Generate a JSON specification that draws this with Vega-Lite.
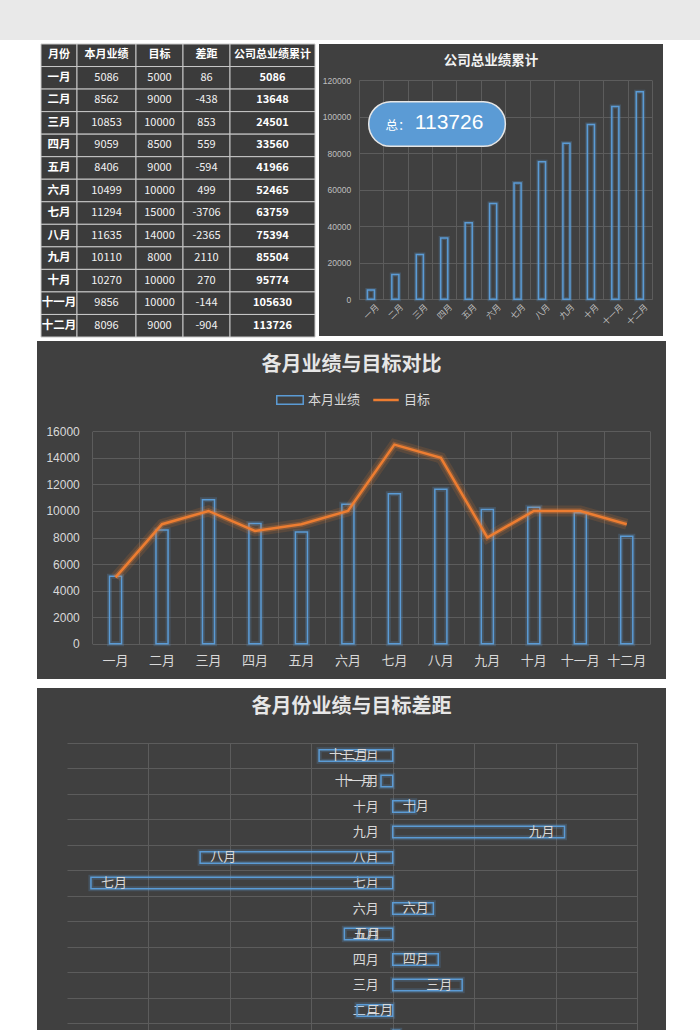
{
  "$schema": "https://vega.github.io/schema/vega-lite/v6.json",
  "background": "#ffffff",
  "padding": 0,
  "config": {
    "view": {"stroke": null},
    "font": "Noto Sans CJK SC",
    "axis": {"domain": false, "ticks": false, "tickSize": 0, "title": null, "gridColor": "#5c5c5c", "gridWidth": 1, "labelOverlap": false}
  },
  "datasets": {
    "h": [{"m": "月份", "a": "本月业绩", "t": "目标", "d": "差距", "c": "公司总业绩累计"}],
    "s": [
      {"m": "一月", "a": 5086, "t": 5000, "d": 86, "c": 5086},
      {"m": "二月", "a": 8562, "t": 9000, "d": -438, "c": 13648},
      {"m": "三月", "a": 10853, "t": 10000, "d": 853, "c": 24501},
      {"m": "四月", "a": 9059, "t": 8500, "d": 559, "c": 33560},
      {"m": "五月", "a": 8406, "t": 9000, "d": -594, "c": 41966},
      {"m": "六月", "a": 10499, "t": 10000, "d": 499, "c": 52465},
      {"m": "七月", "a": 11294, "t": 15000, "d": -3706, "c": 63759},
      {"m": "八月", "a": 11635, "t": 14000, "d": -2365, "c": 75394},
      {"m": "九月", "a": 10110, "t": 8000, "d": 2110, "c": 85504},
      {"m": "十月", "a": 10270, "t": 10000, "d": 270, "c": 95774},
      {"m": "十一月", "a": 9856, "t": 10000, "d": -144, "c": 105630},
      {"m": "十二月", "a": 8096, "t": 9000, "d": -904, "c": 113726}
    ],
    "callout": [{"k": "总：", "v": 113726}]
  },
  "spacing": 3,
  "vconcat": [
    {
      "spacing": 3,
      "vconcat": [
        {"width": 700, "height": 40, "view": {"fill": "#e9e9e9", "stroke": null}, "data": {"values": [{}]}, "mark": {"type": "rect", "opacity": 0}, "encoding": {}},
        {
          "spacing": 3,
          "hconcat": [
            {"width": 37, "height": 10, "data": {"values": [{}]}, "mark": {"type": "rect", "opacity": 0}, "encoding": {}},
            {
              "spacing": 0,
              "bounds": "flush",
              "hconcat": [
                {
                  "width": 36, "height": 293,
                  "encoding": {"y": {"field": "m", "type": "nominal", "axis": null, "sort": null, "scale": {"domain": ["月份","一月","二月","三月","四月","五月","六月","七月","八月","九月","十月","十一月","十二月"], "paddingInner": 0, "paddingOuter": 0}}},
                  "layer": [
                    {"data": {"name": "h"}, "mark": {"type": "rect", "fill": "#3b3b3b", "stroke": "#c8c8c8", "strokeWidth": 1}},
                    {"data": {"name": "h"}, "mark": {"type": "text", "fontSize": 11, "fontWeight": "bold", "color": "#ffffff"}, "encoding": {"text": {"field": "m", "type": "nominal"}}},
                    {"data": {"name": "s"}, "mark": {"type": "rect", "fill": "#3b3b3b", "stroke": "#c8c8c8", "strokeWidth": 1}},
                    {"data": {"name": "s"}, "mark": {"type": "text", "fontSize": 11.5, "fontWeight": "bold", "color": "#ffffff"}, "encoding": {"text": {"field": "m", "type": "nominal"}}}
                  ]
                },
                {
                  "width": 59, "height": 293,
                  "encoding": {"y": {"field": "m", "type": "nominal", "axis": null, "sort": null, "scale": {"domain": ["月份","一月","二月","三月","四月","五月","六月","七月","八月","九月","十月","十一月","十二月"], "paddingInner": 0, "paddingOuter": 0}}},
                  "layer": [
                    {"data": {"name": "h"}, "mark": {"type": "rect", "fill": "#3b3b3b", "stroke": "#c8c8c8", "strokeWidth": 1}},
                    {"data": {"name": "h"}, "mark": {"type": "text", "fontSize": 11, "fontWeight": "bold", "color": "#ffffff"}, "encoding": {"text": {"field": "a", "type": "nominal"}}},
                    {"data": {"name": "s"}, "mark": {"type": "rect", "fill": "#3b3b3b", "stroke": "#c8c8c8", "strokeWidth": 1}},
                    {"data": {"name": "s"}, "mark": {"type": "text", "fontSize": 11, "color": "#f2f2f2"}, "encoding": {"text": {"field": "a", "type": "nominal"}}}
                  ]
                },
                {
                  "width": 47, "height": 293,
                  "encoding": {"y": {"field": "m", "type": "nominal", "axis": null, "sort": null, "scale": {"domain": ["月份","一月","二月","三月","四月","五月","六月","七月","八月","九月","十月","十一月","十二月"], "paddingInner": 0, "paddingOuter": 0}}},
                  "layer": [
                    {"data": {"name": "h"}, "mark": {"type": "rect", "fill": "#3b3b3b", "stroke": "#c8c8c8", "strokeWidth": 1}},
                    {"data": {"name": "h"}, "mark": {"type": "text", "fontSize": 11, "fontWeight": "bold", "color": "#ffffff"}, "encoding": {"text": {"field": "t", "type": "nominal"}}},
                    {"data": {"name": "s"}, "mark": {"type": "rect", "fill": "#3b3b3b", "stroke": "#c8c8c8", "strokeWidth": 1}},
                    {"data": {"name": "s"}, "mark": {"type": "text", "fontSize": 11, "color": "#f2f2f2"}, "encoding": {"text": {"field": "t", "type": "nominal"}}}
                  ]
                },
                {
                  "width": 47, "height": 293,
                  "encoding": {"y": {"field": "m", "type": "nominal", "axis": null, "sort": null, "scale": {"domain": ["月份","一月","二月","三月","四月","五月","六月","七月","八月","九月","十月","十一月","十二月"], "paddingInner": 0, "paddingOuter": 0}}},
                  "layer": [
                    {"data": {"name": "h"}, "mark": {"type": "rect", "fill": "#3b3b3b", "stroke": "#c8c8c8", "strokeWidth": 1}},
                    {"data": {"name": "h"}, "mark": {"type": "text", "fontSize": 11, "fontWeight": "bold", "color": "#ffffff"}, "encoding": {"text": {"field": "d", "type": "nominal"}}},
                    {"data": {"name": "s"}, "mark": {"type": "rect", "fill": "#3b3b3b", "stroke": "#c8c8c8", "strokeWidth": 1}},
                    {"data": {"name": "s"}, "mark": {"type": "text", "fontSize": 11, "color": "#f2f2f2"}, "encoding": {"text": {"field": "d", "type": "nominal"}}}
                  ]
                },
                {
                  "width": 85, "height": 293,
                  "encoding": {"y": {"field": "m", "type": "nominal", "axis": null, "sort": null, "scale": {"domain": ["月份","一月","二月","三月","四月","五月","六月","七月","八月","九月","十月","十一月","十二月"], "paddingInner": 0, "paddingOuter": 0}}},
                  "layer": [
                    {"data": {"name": "h"}, "mark": {"type": "rect", "fill": "#3b3b3b", "stroke": "#c8c8c8", "strokeWidth": 1}},
                    {"data": {"name": "h"}, "mark": {"type": "text", "fontSize": 11, "fontWeight": "bold", "color": "#ffffff"}, "encoding": {"text": {"field": "c", "type": "nominal"}}},
                    {"data": {"name": "s"}, "mark": {"type": "rect", "fill": "#3b3b3b", "stroke": "#c8c8c8", "strokeWidth": 1}},
                    {"data": {"name": "s"}, "mark": {"type": "text", "fontSize": 11, "fontWeight": "bold", "color": "#ffffff"}, "encoding": {"text": {"field": "c", "type": "nominal"}}}
                  ]
                }
              ]
            },
            {
              "width": 344, "height": 292,
              "view": {"fill": "#404040", "stroke": null},
              "title": {"text": "公司总业绩累计", "fontSize": 13.5, "fontWeight": "bold", "color": "#f2f2f2", "offset": -23, "anchor": "middle", "frame": "group"},
              "resolve": {"scale": {"x": "independent"}, "axis": {"x": "independent"}},
              "layer": [
                {
                  "data": {"name": "s"},
                  "encoding": {
                    "x": {"field": "m", "type": "nominal", "sort": null,
                          "scale": {"range": [39.7, 333], "paddingInner": 0, "paddingOuter": 0},
                          "axis": {"orient": "top", "grid": true, "tickBand": "extent", "labels": false}},
                    "y": {"field": "c", "type": "quantitative",
                          "scale": {"domain": [0, 120000], "range": [255.3, 36.3]},
                          "axis": {"offset": -39.7, "values": [0, 20000, 40000, 60000, 80000, 100000, 120000], "format": "d", "grid": true, "labelFont": "Liberation Sans", "labelFontSize": 8.5, "labelColor": "#bfbfbf", "labelPadding": 8}}
                  },
                  "layer": [
                    {"mark": {"type": "bar", "width": {"band": 0.29}, "fill": "transparent", "stroke": "#5b9bd5", "strokeWidth": 4, "strokeOpacity": 0.25}},
                    {"mark": {"type": "bar", "width": {"band": 0.29}, "fill": "transparent", "stroke": "#5b9bd5", "strokeWidth": 1.5}},
                    {"mark": {"type": "text", "angle": 315, "align": "right", "baseline": "middle", "dy": 9, "fontSize": 8.5, "color": "#bfbfbf"},
                     "encoding": {"y": {"datum": 0, "type": "quantitative"}, "text": {"field": "m", "type": "nominal"}}}
                  ]
                },
                {
                  "data": {"name": "callout"},
                  "layer": [
                    {
                      "mark": {"type": "rect", "cornerRadius": 22, "fill": "#5b9bd5", "stroke": "#e6e6e6", "strokeWidth": 1.5},
                      "encoding": {
                        "x": {"datum": 0.41, "type": "quantitative", "scale": {"domain": [0, 12], "range": [39.7, 333]}, "axis": null},
                        "x2": {"datum": 6.0},
                        "y": {"datum": 108300, "type": "quantitative"},
                        "y2": {"datum": 83800}
                      }
                    },
                    {
                      "mark": {"type": "text", "fontSize": 12.5, "color": "#ffffff", "baseline": "middle"},
                      "encoding": {
                        "x": {"datum": 1.61, "type": "quantitative", "scale": {"domain": [0, 12], "range": [39.7, 333]}, "axis": null},
                        "y": {"datum": 95000, "type": "quantitative"},
                        "text": {"field": "k", "type": "nominal"}
                      }
                    },
                    {
                      "mark": {"type": "text", "fontSize": 21, "font": "Liberation Sans", "color": "#ffffff", "baseline": "middle"},
                      "encoding": {
                        "x": {"datum": 3.7, "type": "quantitative", "scale": {"domain": [0, 12], "range": [39.7, 333]}, "axis": null},
                        "y": {"datum": 96800, "type": "quantitative"},
                        "text": {"field": "v", "type": "nominal"}
                      }
                    }
                  ]
                }
              ]
            }
          ]
        },
        {
          "spacing": 4,
          "bounds": "flush",
          "hconcat": [
            {"width": 33, "height": 10, "data": {"values": [{}]}, "mark": {"type": "rect", "opacity": 0}, "encoding": {}},
            {
              "width": 629, "height": 338,
              "view": {"fill": "#404040", "stroke": null},
              "title": {"text": "各月业绩与目标对比", "fontSize": 20, "fontWeight": "bold", "color": "#e6e6e6", "offset": -34, "anchor": "middle", "frame": "group"},
              "data": {"name": "s"},
              "encoding": {
                "x": {"field": "m", "type": "nominal", "sort": null,
                      "scale": {"range": [55.3, 613], "paddingInner": 0, "paddingOuter": 0},
                      "axis": {"orient": "top", "grid": true, "tickBand": "extent", "labels": false}}
              },
              "layer": [
                {"mark": {"type": "bar", "width": {"band": 0.26}, "fill": "transparent", "stroke": "#5b9bd5", "strokeWidth": 5, "strokeOpacity": 0.22},
                 "encoding": {"y": {"field": "a", "type": "quantitative", "scale": {"domain": [0, 16000], "range": [302.7, 90.3]},
                   "axis": {"offset": -55.3, "values": [0, 2000, 4000, 6000, 8000, 10000, 12000, 14000, 16000], "format": "d", "grid": true, "labelFont": "Liberation Sans", "labelFontSize": 12, "labelColor": "#d9d9d9", "labelPadding": 13}}}},
                {"mark": {"type": "bar", "width": {"band": 0.26}, "fill": "transparent", "strokeWidth": 1.5},
                 "encoding": {
                   "y": {"field": "a", "type": "quantitative"},
                   "stroke": {"datum": "本月业绩", "type": "nominal", "scale": {"range": ["#5b9bd5"]},
                     "legend": {"orient": "none", "legendX": 276, "legendY": 386, "title": null, "symbolType": "M-1,-0.32H1V0.32H-1Z", "symbolSize": 700, "symbolStrokeWidth": 1.5, "symbolFillColor": "transparent", "labelFontSize": 13, "labelColor": "#d9d9d9", "labelOffset": 4, "padding": 0}}
                 }},
                {"mark": {"type": "line", "color": "#ed7d31", "strokeWidth": 11, "opacity": 0.15},
                 "encoding": {"y": {"field": "t", "type": "quantitative"}}},
                {"mark": {"type": "line", "color": "#ed7d31", "strokeWidth": 5.5, "opacity": 0.3},
                 "encoding": {"y": {"field": "t", "type": "quantitative"}}},
                {"mark": {"type": "line", "strokeWidth": 2.5},
                 "encoding": {
                   "y": {"field": "t", "type": "quantitative"},
                   "color": {"datum": "目标", "type": "nominal", "scale": {"range": ["#ed7d31"]},
                     "legend": {"orient": "none", "legendX": 372, "legendY": 386, "title": null, "symbolType": "stroke", "symbolSize": 650, "symbolStrokeWidth": 2.5, "labelFontSize": 13, "labelColor": "#d9d9d9", "labelOffset": 4, "padding": 0}}
                 }},
                {"mark": {"type": "text", "baseline": "top", "dy": 11, "fontSize": 13, "color": "#d9d9d9"},
                 "encoding": {"y": {"datum": 0, "type": "quantitative"}, "text": {"field": "m", "type": "nominal"}}}
              ]
            }
          ]
        }
      ]
    },
    {
      "spacing": 4,
      "bounds": "flush",
      "hconcat": [
        {"width": 33, "height": 10, "data": {"values": [{}]}, "mark": {"type": "rect", "opacity": 0}, "encoding": {}},
        {
          "width": 629, "height": 342,
          "view": {"fill": "#404040", "stroke": null},
          "title": {"text": "各月份业绩与目标差距", "fontSize": 20, "fontWeight": "bold", "color": "#e6e6e6", "offset": -35, "anchor": "middle", "frame": "group"},
          "data": {"name": "s"},
          "encoding": {
            "y": {"field": "m", "type": "nominal",
                  "sort": ["十二月","十一月","十月","九月","八月","七月","六月","五月","四月","三月","二月","一月"],
                  "scale": {"range": [54.7, 360.7], "paddingInner": 0, "paddingOuter": 0},
                  "axis": {"offset": -355.3, "grid": true, "tickBand": "extent", "labelFontSize": 13, "labelColor": "#d9d9d9", "labelPadding": 14}}
          },
          "layer": [
            {"mark": {"type": "bar", "height": {"band": 0.45}, "fill": "transparent", "stroke": "#5b9bd5", "strokeWidth": 5, "strokeOpacity": 0.22},
             "encoding": {"x": {"field": "d", "type": "quantitative", "scale": {"domain": [-4000, 3000], "range": [30, 600]},
               "axis": {"orient": "top", "values": [-3000, -2000, -1000, 0, 1000, 2000, 3000], "grid": true, "labels": false}}}},
            {"mark": {"type": "bar", "height": {"band": 0.45}, "fill": "transparent", "stroke": "#5b9bd5", "strokeWidth": 1.5},
             "encoding": {"x": {"field": "d", "type": "quantitative"}}},
            {"transform": [{"filter": "datum.d >= 800"}],
             "mark": {"type": "text", "align": "right", "dx": -10, "baseline": "middle", "fontSize": 13, "color": "#d9d9d9"},
             "encoding": {"x": {"field": "d", "type": "quantitative"}, "text": {"field": "m", "type": "nominal"}}},
            {"transform": [{"filter": "datum.d >= 0 && datum.d < 800"}],
             "mark": {"type": "text", "align": "left", "dx": 10, "baseline": "middle", "fontSize": 13, "color": "#d9d9d9"},
             "encoding": {"x": {"datum": 0, "type": "quantitative"}, "text": {"field": "m", "type": "nominal"}}},
            {"transform": [{"filter": "datum.d <= -300"}],
             "mark": {"type": "text", "align": "left", "dx": 10, "baseline": "middle", "fontSize": 13, "color": "#d9d9d9"},
             "encoding": {"x": {"field": "d", "type": "quantitative"}, "text": {"field": "m", "type": "nominal"}}},
            {"transform": [{"filter": "datum.d < 0 && datum.d > -300"}],
             "mark": {"type": "text", "align": "right", "dx": -19, "baseline": "middle", "fontSize": 13, "color": "#d9d9d9"},
             "encoding": {"x": {"datum": 0, "type": "quantitative"}, "text": {"field": "m", "type": "nominal"}}}
          ]
        }
      ]
    }
  ]
}
